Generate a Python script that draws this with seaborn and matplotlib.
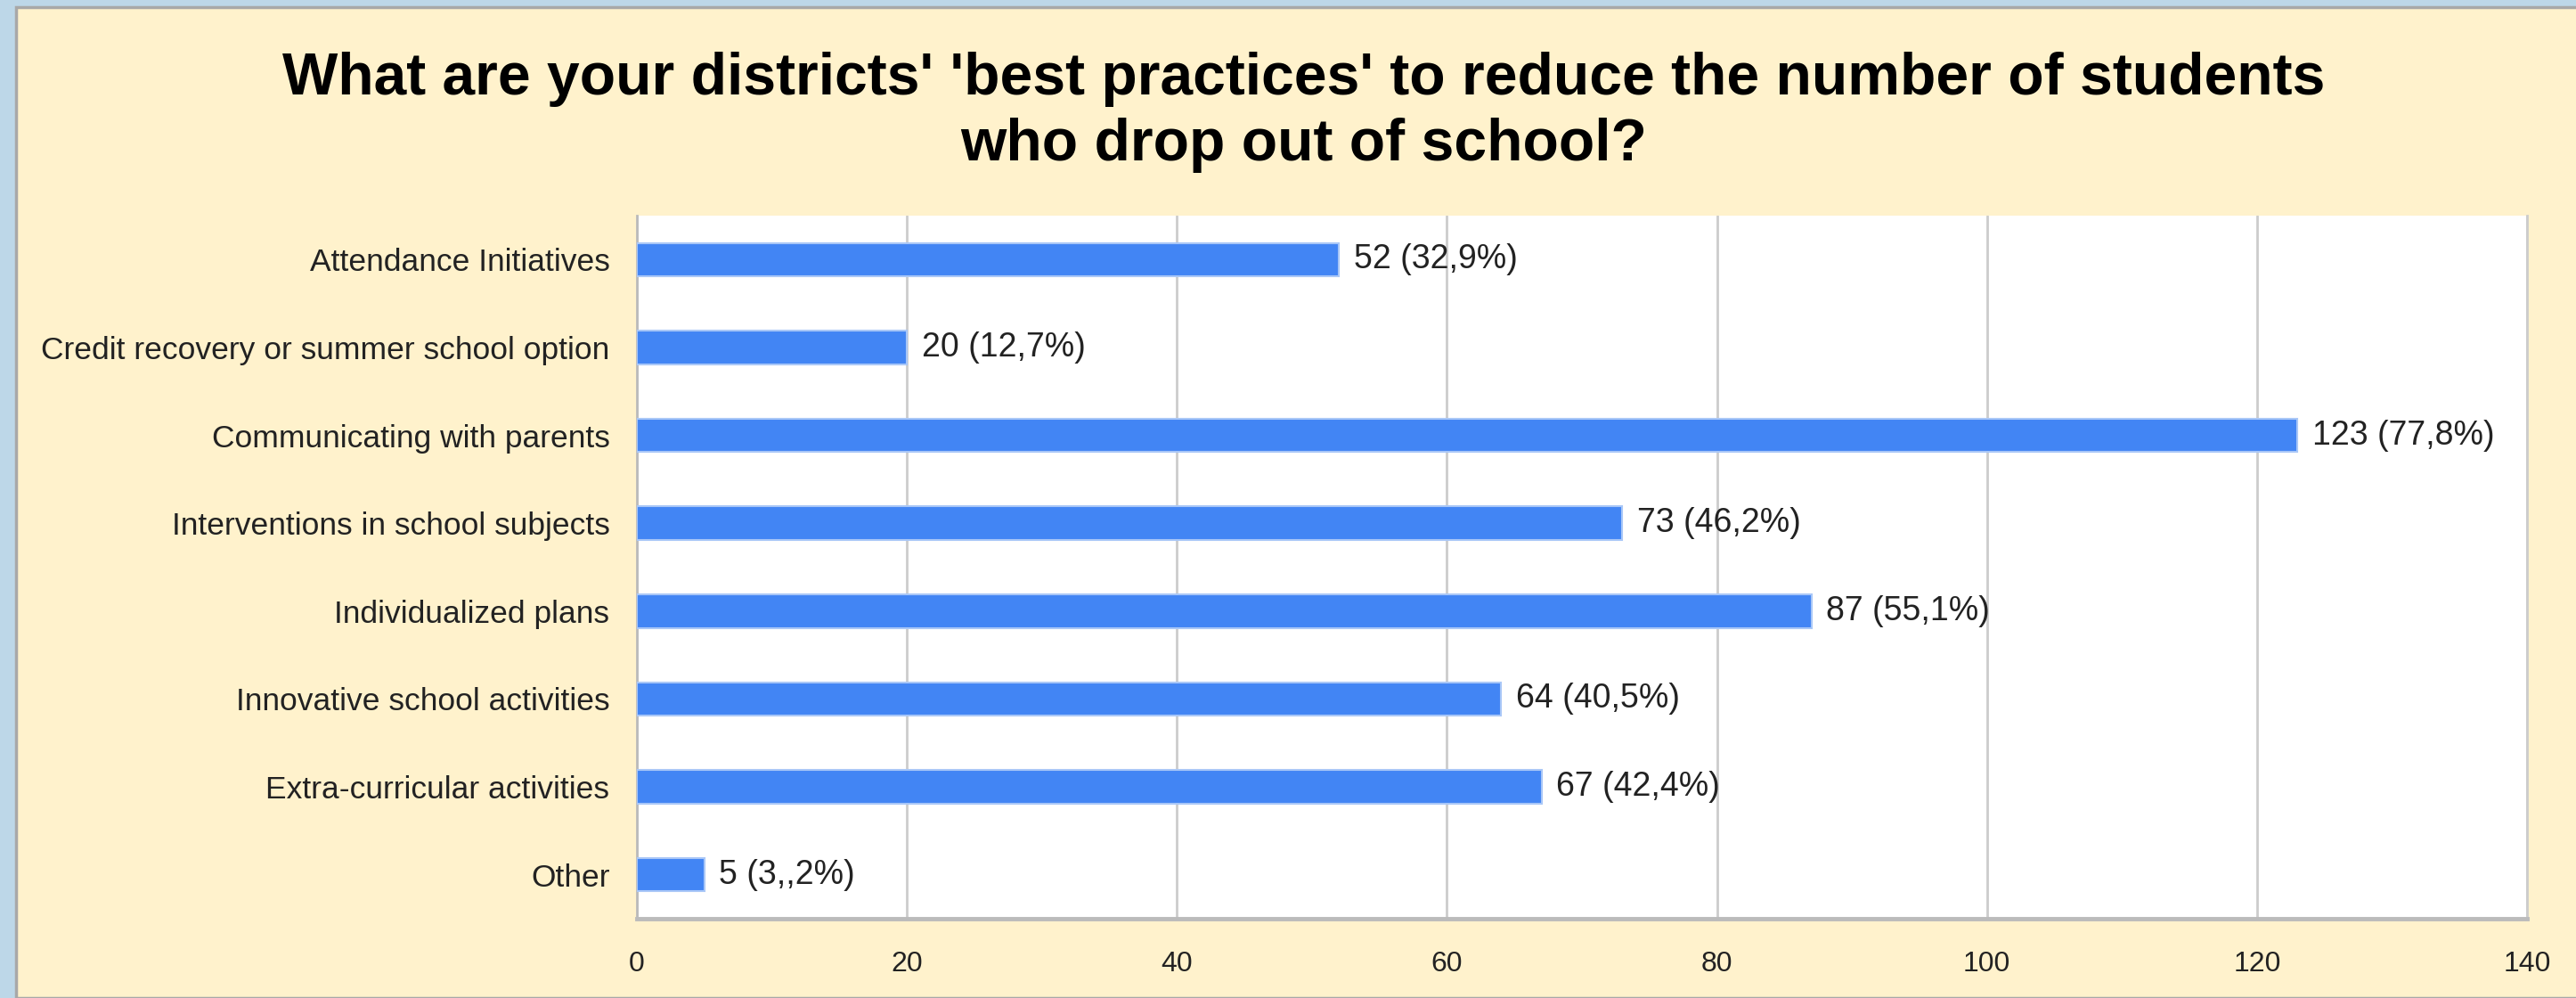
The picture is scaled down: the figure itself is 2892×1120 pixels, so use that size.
import pandas as pd
import matplotlib
matplotlib.use("Agg")
import matplotlib.pyplot as plt
from matplotlib.patches import Rectangle
import seaborn as sns

# data
practices = [
    "Attendance Initiatives",
    "Credit recovery or summer school option",
    "Communicating with parents",
    "Interventions in school subjects",
    "Individualized plans",
    "Innovative school activities",
    "Extra-curricular activities",
    "Other",
]
counts = [52, 20, 123, 73, 87, 64, 67, 5]
value_labels = [
    "52 (32,9%)", "20 (12,7%)", "123 (77,8%)", "73 (46,2%)",
    "87 (55,1%)", "64 (40,5%)", "67 (42,4%)", "5 (3,,2%)",
]
x_ticks = [0, 20, 40, 60, 80, 100, 120, 140]

TITLE = ("What are your districts' 'best practices' to reduce the number of students\n"
         "who drop out of school?")

CREAM = "#FFF2CC"
BLUE = "#4285F4"

df = pd.DataFrame({"Practice": practices, "Count": counts})

sns.set_style("white")
plt.rcParams["font.family"] = ["Liberation Sans", "DejaVu Sans"]

fig = plt.figure(figsize=(28.92, 11.2), dpi=100, facecolor="#BDD7E8")
# cream panel with thin gray frame (light blue strip shows on left/top)
fig.patches.append(Rectangle((18 / 2892, 0), 1, 1 - 8 / 1120, transform=fig.transFigure,
                             facecolor=CREAM, edgecolor="#A8A8A8", linewidth=2.5, zorder=-10))

ax = fig.add_axes([715 / 2892, 1 - 1031 / 1120, (2837 - 715) / 2892, (1031 - 242) / 1120])
ax.set_zorder(5)
ax.set_facecolor("white")

sns.barplot(data=df, y="Practice", x="Count", orient="h", color=BLUE, saturation=1,
            width=0.38, edgecolor="#A9C7F7", linewidth=1.5, ax=ax, zorder=3)

for bar, lab in zip(ax.patches, value_labels):
    ax.text(bar.get_width() + 1.1, bar.get_y() + bar.get_height() / 2, lab,
            va="center", ha="left", fontsize=27, color="#222222", zorder=4)

ax.set_xlim(0, 140)
ax.set_ylim(len(practices) - 0.5, -0.5)
ax.set_xticks(x_ticks)
ax.set_xticklabels([str(t) for t in x_ticks], fontsize=23, color="#222222")
ax.set_xlabel("")
ax.set_ylabel("")
ax.xaxis.grid(True, color="#CCCCCC", linewidth=2, zorder=0)
ax.set_axisbelow(True)

# category labels, tick marks between categories
ax.set_yticks(range(len(practices)))
ax.set_yticklabels(practices, fontsize=25.5, color="#222222")
ax.tick_params(axis="y", which="major", length=0, pad=22)
ax.set_yticks([i + 0.5 for i in range(-1, len(practices))], minor=True)
ax.tick_params(axis="y", which="minor", length=10, width=2, color="#AAAAAA")
ax.tick_params(axis="x", length=14, width=2, color="#BBBBBB", pad=12, direction="out")

ax.spines["top"].set_visible(False)
ax.spines["right"].set_color("#CCCCCC")
ax.spines["right"].set_linewidth(2)
ax.spines["left"].set_color("#BBBBBB")
ax.spines["left"].set_linewidth(2)
ax.spines["bottom"].set_color("#BBBBBB")
ax.spines["bottom"].set_linewidth(3.5)

fig.text(0.506, 0.948, TITLE, ha="center", va="top", fontsize=47.5, fontweight="bold",
         color="black", linespacing=1.25)

fig.savefig("out.png", dpi=100, facecolor=fig.get_facecolor())
